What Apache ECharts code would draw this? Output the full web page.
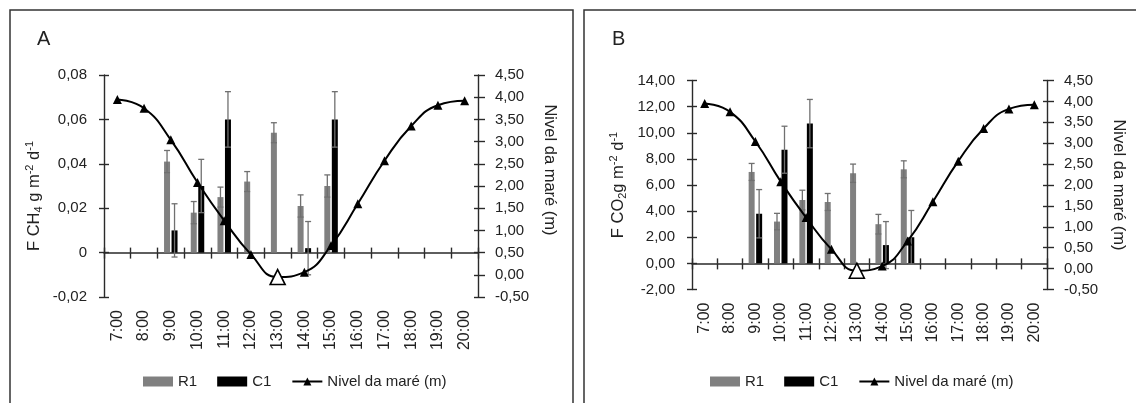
<!DOCTYPE html>
<html>
<head>
<meta charset="utf-8">
<script src="https://cdn.jsdelivr.net/npm/echarts@6/dist/echarts.min.js"></script>
<style>
  html, body { margin: 0; padding: 0; background: #fff; }
  #chart { width: 1136px; height: 403px; }
</style>
</head>
<body>
<div id="chart"></div>
<script>
// ---------- data ----------
var hours = ['7:00','8:00','9:00','10:00','11:00','12:00','13:00','14:00','15:00','16:00','17:00','18:00','19:00','20:00'];
var tide = [3.95, 3.75, 3.04, 2.08, 1.22, 0.46, -0.05, 0.06, 0.66, 1.60, 2.57, 3.35, 3.82, 3.92];
var lowTideIndex = 6;

// Panel A: CH4
var ch4R1    = [null, null, 0.041, 0.018, 0.025, 0.032, 0.054, 0.021, 0.030, null, null, null, null, null];
var ch4R1Err = [null, null, 0.005, 0.005, 0.0045, 0.0045, 0.0045, 0.005, 0.005, null, null, null, null, null];
var ch4C1    = [null, null, 0.010, 0.030, 0.060, null, null, 0.002, 0.060, null, null, null, null, null];
var ch4C1Err = [null, null, 0.012, 0.012, 0.0125, null, null, 0.012, 0.0125, null, null, null, null, null];

// Panel B: CO2
var co2R1    = [null, null, 7.0, 3.2, 4.85, 4.7, 6.9, 3.0, 7.2, null, null, null, null, null];
var co2R1Err = [null, null, 0.65, 0.63, 0.75, 0.65, 0.7, 0.75, 0.65, null, null, null, null, null];
var co2C1    = [null, null, 3.8, 8.7, 10.7, null, null, 1.4, 2.0, null, null, null, null, null];
var co2C1Err = [null, null, 1.85, 1.8, 1.85, null, null, 1.8, 2.05, null, null, null, null, null];

var tideTicks = { min: -0.5, max: 4.5, interval: 0.5 };
var ch4Ticks = { min: -0.02, max: 0.08, interval: 0.02 };
var co2Ticks = { min: -2, max: 14, interval: 2 };

var nameR1 = 'R1', nameC1 = 'C1', nameTide = 'Nivel da maré (m)';

// ---------- style ----------
var FONT = 'Liberation Sans, Arial, sans-serif';
var AX = '#2a2a2a';
var TXT = '#222';
var GRAY = '#808080';
var ERR = '#707070';
var BAR_W = 6, BAR_GAP = '25%';

function comma(v, d) { return v.toFixed(d).replace('.', ','); }

function errRender(slot) {
  return function (params, api) {
    var v = api.value(1), e = api.value(2);
    if (isNaN(v) || isNaN(e)) return;
    var dx;
    if (typeof api.barLayout === 'function') {
      var lay = api.barLayout({ count: 2, barWidth: BAR_W, barGap: BAR_GAP });
      dx = lay[slot].offsetCenter;
    } else {
      dx = (slot === 0 ? -1 : 1) * (BAR_W * 1.25) / 2;
    }
    var top = api.coord([api.value(0), v + e]);
    var bot = api.coord([api.value(0), v - e]);
    var x = top[0] + dx, cap = 3;
    var st = { stroke: ERR, lineWidth: 1.3 };
    return { type: 'group', children: [
      { type: 'line', shape: { x1: x, y1: top[1], x2: x, y2: bot[1] }, style: st },
      { type: 'line', shape: { x1: x - cap, y1: top[1], x2: x + cap, y2: top[1] }, style: st },
      { type: 'line', shape: { x1: x - cap, y1: bot[1], x2: x + cap, y2: bot[1] }, style: st }
    ]};
  };
}

function errData(vals, errs) {
  var out = [];
  vals.forEach(function (v, i) { if (v != null && errs[i] != null) out.push([i, v, errs[i]]); });
  return out;
}

function tideData() {
  return tide.map(function (v, i) {
    if (i === lowTideIndex) {
      return { value: v, symbolSize: [15, 15], itemStyle: { color: '#fff', borderColor: '#000', borderWidth: 1.6 } };
    }
    return v;
  });
}

function nameRich() {
  return {
    t: { fontSize: 16.5, color: TXT, fontFamily: FONT, lineHeight: 20 },
    s: { fontSize: 11, color: TXT, fontFamily: FONT, verticalAlign: 'bottom' },
    p: { fontSize: 11, color: TXT, fontFamily: FONT, verticalAlign: 'top' }
  };
}

var grids = [
  { left: 104, top: 75, width: 374, height: 222 },
  { left: 692, top: 80.5, width: 355, height: 209 }
];

var xAxes = [], yAxes = [], series = [];

function addPanel(g, leftTicks, leftFmt, leftName, leftGap, leftPad, rightPad, r1, r1e, c1, c1e) {
  var yBase = yAxes.length;
  var xBase = xAxes.length;
  yAxes.push({
    type: 'value', gridIndex: g, position: 'left',
    min: leftTicks.min, max: leftTicks.max, interval: leftTicks.interval,
    axisLine: { show: true, onZero: false, lineStyle: { color: AX, width: 1.4 } },
    axisTick: { show: true, length: 5, lineStyle: { color: AX, width: 1.4 } },
    axisLabel: { margin: 17, fontSize: 15, color: TXT, fontFamily: FONT, formatter: leftFmt },
    splitLine: { show: false },
    name: leftName, nameLocation: 'middle', nameGap: leftGap, nameRotate: 90,
    nameTextStyle: { rich: nameRich(), padding: leftPad }
  });
  yAxes.push({
    type: 'value', gridIndex: g, position: 'right',
    min: tideTicks.min, max: tideTicks.max, interval: tideTicks.interval,
    axisLine: { show: true, onZero: false, lineStyle: { color: AX, width: 1.4 } },
    axisTick: { show: true, length: 7, lineStyle: { color: AX, width: 1.4 } },
    axisLabel: { margin: 17, fontSize: 15, color: TXT, fontFamily: FONT, formatter: function (v) { return comma(v, 2); } },
    splitLine: { show: false },
    name: nameTide, nameLocation: 'middle', nameGap: 63, nameRotate: -90,
    nameTextStyle: { fontSize: 16.5, color: TXT, fontFamily: FONT, padding: rightPad }
  });
  yAxes.push({
    type: 'value', gridIndex: g, position: 'left',
    min: leftTicks.min, max: leftTicks.max, interval: leftTicks.interval,
    axisLine: { show: false, onZero: false }, axisLabel: { show: false }, splitLine: { show: false },
    axisTick: { show: true, inside: true, length: 5, lineStyle: { color: AX, width: 1.4 } }
  });
  yAxes.push({
    type: 'value', gridIndex: g, position: 'right',
    min: tideTicks.min, max: tideTicks.max, interval: tideTicks.interval,
    axisLine: { show: false, onZero: false }, axisLabel: { show: false }, splitLine: { show: false },
    axisTick: { show: true, inside: true, length: 4, lineStyle: { color: AX, width: 1.4 } }
  });
  xAxes.push({
    type: 'category', gridIndex: g, position: 'bottom', data: hours,
    axisLine: { show: false, onZero: false }, axisTick: { show: false },
    axisLabel: { rotate: 90, margin: 13, fontSize: 16, color: TXT, fontFamily: FONT, interval: 0 },
    splitLine: { show: false }
  });
  xAxes.push({
    type: 'category', gridIndex: g, position: 'bottom', data: hours,
    axisLine: { show: true, onZero: true, onZeroAxisIndex: yBase, lineStyle: { color: AX, width: 1.5 } },
    axisTick: { show: true, length: 6, interval: 0, lineStyle: { color: AX, width: 1.4 } },
    axisLabel: { show: false }, splitLine: { show: false }
  });
  xAxes.push({
    type: 'category', gridIndex: g, position: 'bottom', data: hours,
    axisLine: { show: false, onZero: true, onZeroAxisIndex: yBase },
    axisTick: { show: true, inside: true, length: 5, interval: 0, lineStyle: { color: AX, width: 1.4 } },
    axisLabel: { show: false }, splitLine: { show: false }
  });

  series.push({
    type: 'bar', name: nameR1, xAxisIndex: xBase, yAxisIndex: yBase, data: r1,
    barWidth: BAR_W, barGap: BAR_GAP, itemStyle: { color: GRAY }, z: 2
  });
  series.push({
    type: 'bar', name: nameC1, xAxisIndex: xBase, yAxisIndex: yBase, data: c1,
    barWidth: BAR_W, barGap: BAR_GAP, itemStyle: { color: '#000' }, z: 2
  });
  series.push({
    type: 'custom', xAxisIndex: xBase, yAxisIndex: yBase, renderItem: errRender(0),
    data: errData(r1, r1e), z: 3, silent: true
  });
  series.push({
    type: 'custom', xAxisIndex: xBase, yAxisIndex: yBase, renderItem: errRender(1),
    data: errData(c1, c1e), z: 3, silent: true
  });
  series.push({
    type: 'line', name: nameTide, xAxisIndex: xBase, yAxisIndex: yBase + 1, data: tideData(),
    smooth: true, symbol: 'triangle', symbolSize: 9,
    lineStyle: { color: '#000', width: 2 }, itemStyle: { color: '#000' }, z: 5
  });
}

addPanel(0, ch4Ticks,
  function (v) { return Math.abs(v) < 1e-9 ? '0' : comma(v, 2); },
  '{t|F CH}{s|4}{t| g m}{p|-2}{t| d}{p|-1}', 60, [0, 20, 0, 0], [0, 32, 0, 0],
  ch4R1, ch4R1Err, ch4C1, ch4C1Err);
addPanel(1, co2Ticks,
  function (v) { return comma(v, 2); },
  '{t|F CO}{s|2}{t|g m}{p|-2}{t| d}{p|-1}', 64, [0, 0, 0, 0], [0, 0, 0, 0],
  co2R1, co2R1Err, co2C1, co2C1Err);

function legendAt(left) {
  return {
    left: left, top: 374, padding: 0, itemGap: 20, itemWidth: 30, itemHeight: 10,
    textStyle: { fontSize: 15, color: TXT, fontFamily: FONT },
    data: [ { name: nameR1, icon: 'rect' }, { name: nameC1, icon: 'rect' }, { name: nameTide } ]
  };
}

var option = {
  animation: false,
  textStyle: { fontFamily: FONT },
  grid: grids,
  xAxis: xAxes,
  yAxis: yAxes,
  legend: [legendAt(143), legendAt(710)],
  series: series,
  graphic: [
    { type: 'rect', shape: { x: 10, y: 10, width: 563, height: 420 }, style: { fill: 'none', stroke: '#333', lineWidth: 1.5 }, silent: true },
    { type: 'rect', shape: { x: 584, y: 10, width: 600, height: 420 }, style: { fill: 'none', stroke: '#333', lineWidth: 1.5 }, silent: true },
    { type: 'text', left: 37, top: 29, style: { text: 'A', fontSize: 20, fill: TXT, fontFamily: FONT } },
    { type: 'text', left: 612, top: 29, style: { text: 'B', fontSize: 20, fill: TXT, fontFamily: FONT } }
  ]
};

var chart = echarts.init(document.getElementById('chart'), null, { renderer: 'canvas' });
chart.setOption(option);
</script>
</body>
</html>
